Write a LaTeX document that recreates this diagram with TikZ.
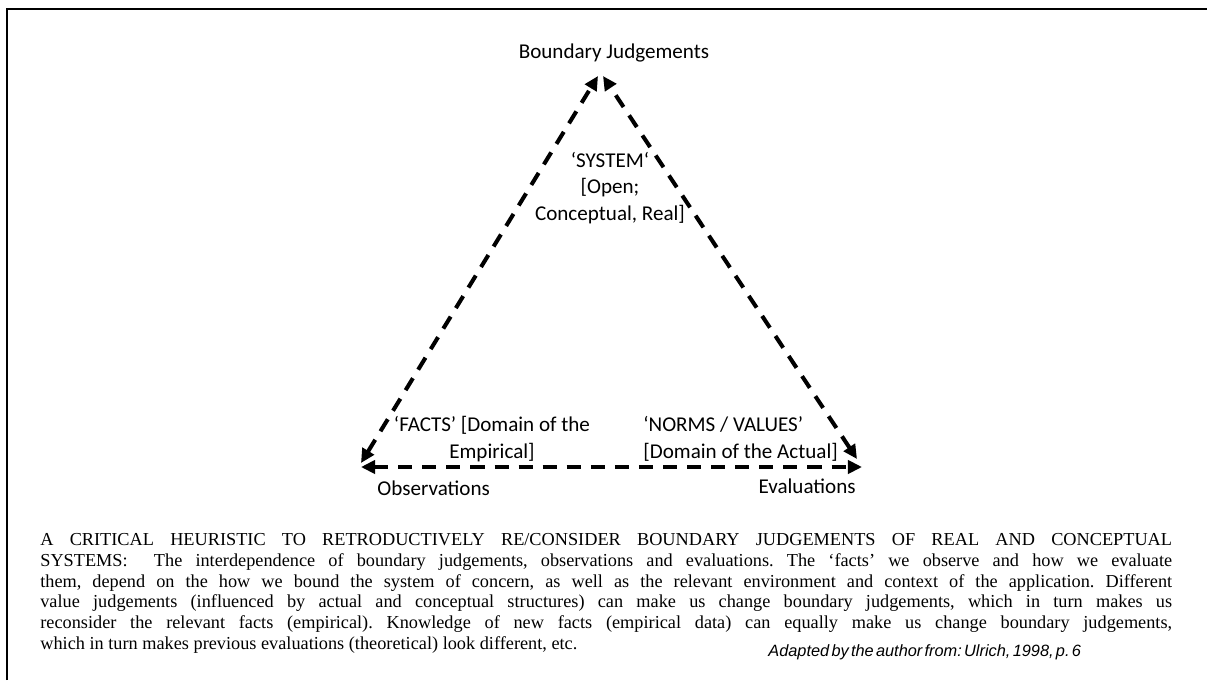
\documentclass[tikz,border=0pt]{standalone}
\usepackage{fontspec}
\setmainfont{Liberation Serif}
\newfontfamily\calibfont{Carlito}
\newfontfamily\arialfont{Liberation Sans}
\usetikzlibrary{arrows.meta,positioning}
\frenchspacing

\begin{document}
\begin{tikzpicture}[x=0.02cm,y=0.02cm]
\tikzstyle{every node}+=[inner sep=0pt]
\tikzstyle{corner}=[font=\calibfont\fontsize{12}{15}\selectfont, align=center]
\tikzstyle{link}=[line width=2.3pt, dash pattern=on 8pt off 5.7pt, {Triangle[length=8pt,width=7.5pt]}-{Triangle[length=8pt,width=7.5pt]}]
\useasboundingbox (0,0) rectangle (1207,-680);
\draw [line width=1.1pt] (7,-680) -- (7,-9) -- (1207,-9);
\node [corner] (bj) at (614,-53) {Boundary Judgements};
\node [corner] (sys) at (610,-188) {‘SYSTEM‘\\{[}Open;\\Conceptual, Real]};
\node [corner] (facts) at (492,-439) {‘FACTS’ [Domain of the\\Empirical]};
\node [corner, align=left, anchor=west] (norms) at (643,-439) {‘NORMS / VALUES’\\{[}Domain of the Actual]};
\node [corner, anchor=west] (obs) at (377,-488) {Observations};
\node [corner, anchor=east] (eva) at (856,-486) {Evaluations};
\coordinate (topL) at (598,-76);
\coordinate (topR) at (603,-76);
\coordinate (obsD) at (361,-463);
\coordinate (evaD) at (857,-459);
\coordinate (obsH) at (361,-467);
\coordinate (evaH) at (862,-467);
\draw [link] (obsD) -- (topL);
\draw [link] (evaD) -- (topR);
\draw [link] (obsH) -- (evaH);
\node [anchor=base west, font=\fontsize{10.4}{11.95}\selectfont] (cap) at (40,-545) {\parbox[t]{22.64cm}{A CRITICAL HEURISTIC TO RETRODUCTIVELY RE/CONSIDER BOUNDARY JUDGEMENTS OF REAL AND CONCEPTUAL\linebreak
SYSTEMS:\ \ The interdependence of boundary judgements, observations and evaluations. The ‘facts’ we observe and how we evaluate\linebreak
them, depend on the how we bound the system of concern, as well as the relevant environment and context of the application. Different\linebreak
value judgements (influenced by actual and conceptual structures) can make us change boundary judgements, which in turn makes us\linebreak
reconsider the relevant facts (empirical). Knowledge of new facts (empirical data) can equally make us change boundary judgements,\linebreak
which in turn makes previous evaluations (theoretical) look different, etc.}};
\node [anchor=base west, font=\arialfont\itshape\fontsize{9.3}{11}\selectfont] (src) at (768,-656) {\spaceskip=0.14em Adapted by the author from: Ulrich, 1998, p. 6};
\end{tikzpicture}
\end{document}
